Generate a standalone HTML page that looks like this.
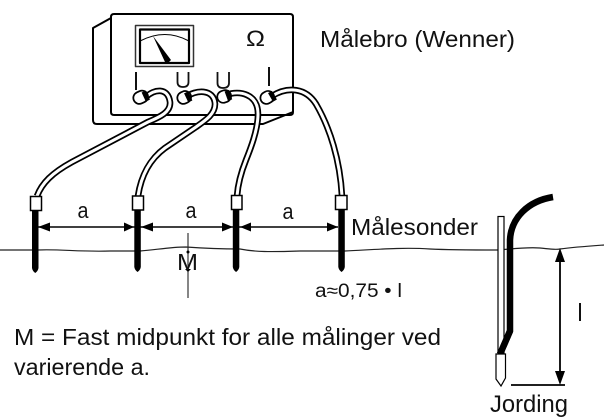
<!DOCTYPE html>
<html>
<head>
<meta charset="utf-8">
<style>
html,body{margin:0;padding:0;background:#fff;width:604px;height:420px;overflow:hidden}
svg{display:block}
text{font-family:"Liberation Sans",sans-serif;fill:#111}
</style>
</head>
<body>
<svg width="604" height="420" viewBox="0 0 604 420" xmlns="http://www.w3.org/2000/svg">
<g fill="none" stroke="#000" stroke-linejoin="round">
  <path d="M111 18 L93 28 V120 Q93 124 97 124 H263 L293 112" stroke-width="2"/>
  <path d="M114 14 H290 Q293 14 293 17 V112 Q293 115 290 115 H114 Q111 115 111 112 V17 Q111 14 114 14Z" stroke-width="2"/>
  <rect x="135.500" y="25.500" width="58" height="41" stroke="#333" stroke-width="1.500"/>
  <rect x="140" y="29.500" width="49" height="33.500" stroke-width="2.200"/>
  <path d="M140 41 Q165 28 189 41" stroke-width="1"/>
</g>
<path d="M153 36 L171 60 L168 63 L165 62Z" fill="#000"/>

<!-- cables -->
<g fill="none" stroke-linecap="butt">
  <g stroke="#000" stroke-width="6.500">
    <path d="M146 97 C154 89 168 87 170 102 C171 112 160 117 148 122 L72 162 C52 173 42 183 37 196"/>
    <path d="M186 97 C195 90 214 88 215 104 C215 114 206 120 196 127 L165 148 C150 159 141 176 138 196"/>
    <path d="M226 95 C240 90 258 94 258 114 C258 130 250 150 246 160 C242 170 238 183 237 196"/>
    <path d="M272 96 C288 86 306 88 316 104 C330 128 340 160 342 196"/>
  </g>
  <g stroke="#fff" stroke-width="3">
    <path d="M146 97 C154 89 168 87 170 102 C171 112 160 117 148 122 L72 162 C52 173 42 183 37 196"/>
    <path d="M186 97 C195 90 214 88 215 104 C215 114 206 120 196 127 L165 148 C150 159 141 176 138 196"/>
    <path d="M226 95 C240 90 258 94 258 114 C258 130 250 150 246 160 C242 170 238 183 237 196"/>
    <path d="M272 96 C288 86 306 88 316 104 C330 128 340 160 342 196"/>
  </g>
</g>
<!-- plugs -->
<g fill="#fff" stroke="#000" stroke-width="1.700">
  <rect x="133" y="91.500" width="15" height="12" rx="6" transform="rotate(-25 140 97)"/>
  <rect x="177" y="91.500" width="14" height="12" rx="6" transform="rotate(-25 184 97)"/>
  <rect x="217" y="90.500" width="14" height="12" rx="6" transform="rotate(-20 224 96)"/>
  <rect x="260" y="91.500" width="14" height="12" rx="6" transform="rotate(-30 267 97)"/>
</g>
<g fill="#000">
  <rect x="143.500" y="91" width="4.500" height="10" transform="rotate(-25 146 96)"/>
  <rect x="186" y="92" width="4.500" height="10" transform="rotate(-25 188 97)"/>
  <rect x="226" y="90.500" width="4.500" height="10" transform="rotate(-20 228 95)"/>
  <rect x="270" y="91.500" width="4.500" height="10" transform="rotate(-30 272 96)"/>
</g>

<!-- labels in box -->
<rect x="135" y="72" width="2" height="18" fill="#111"/>
<path d="M177.500 72 V82 Q177.500 87 183 87 Q188.500 87 188.500 82 V72" fill="none" stroke="#111" stroke-width="1.800"/>
<path d="M217.500 72 V83 Q217.500 88 223 88 Q229 88 229 83 V72" fill="none" stroke="#111" stroke-width="1.800"/>
<rect x="268" y="67" width="2" height="19" fill="#111"/>
<text x="246" y="46" font-size="22" textLength="19" lengthAdjust="spacingAndGlyphs">Ω</text>

<!-- ground -->
<path d="M0 250 H38 C60 249 80 252 110 251 H140 C155 250 170 247 186 247 C200 248 225 249 240 249 C255 252 270 252 300 251 H345 C370 250 400 247 430 249 C450 250 470 250 498 250 C512 249 525 247 540 248 C550 249 555 250 560 249 C575 247 590 246 604 245" fill="none" stroke="#222" stroke-width="1.200"/>

<!-- probes -->
<g fill="#000">
  <path d="M32 210 H38.500 V268 Q38 271 35.250 273 Q32.500 271 32 268Z"/>
  <path d="M134.300 210 H140.800 V267 Q140.300 270 137.550 272 Q134.800 270 134.300 267Z"/>
  <path d="M232.800 210 H239.300 V267 Q238.800 270 236.050 272 Q233.300 270 232.800 267Z"/>
  <path d="M338.300 210 H344.800 V267 Q344.300 270 341.550 272 Q338.800 270 338.300 267Z"/>
</g>
<g fill="#fff" stroke="#000" stroke-width="1.500">
  <rect x="30.500" y="196.500" width="11" height="14"/>
  <rect x="132.500" y="196" width="11" height="14"/>
  <rect x="231.500" y="195.500" width="10.500" height="14"/>
  <rect x="335.500" y="195.500" width="11.500" height="14"/>
</g>

<!-- dimension -->
<path d="M38 227 H338" stroke="#000" stroke-width="1.500"/>
<g fill="#000">
  <path d="M38 227 L50 222.500 V231.500Z"/>
  <path d="M134 227 L124 222.500 V231.500Z"/>
  <path d="M141 227 L153 222.500 V231.500Z"/>
  <path d="M233 227 L222 222.500 V231.500Z"/>
  <path d="M240 227 L251 222.500 V231.500Z"/>
  <path d="M338 227 L327 222.500 V231.500Z"/>
</g>
<text x="77.500" y="218" font-size="22" textLength="11" lengthAdjust="spacingAndGlyphs">a</text>
<text x="185.500" y="218" font-size="22" textLength="11" lengthAdjust="spacingAndGlyphs">a</text>
<text x="282.500" y="219" font-size="22" textLength="11" lengthAdjust="spacingAndGlyphs">a</text>

<!-- M -->
<path d="M188 233 V298" stroke="#222" stroke-width="1.100"/>
<circle cx="188" cy="252" r="1.500" fill="#000"/>
<path d="M185 269 L188 272 L191 269Z" fill="#000"/>
<text x="177" y="270" font-size="23" textLength="21" lengthAdjust="spacingAndGlyphs">M</text>

<!-- text -->
<text x="320" y="47" font-size="23" textLength="195" lengthAdjust="spacingAndGlyphs">Målebro (Wenner)</text>
<text x="351" y="235" font-size="23" textLength="127" lengthAdjust="spacingAndGlyphs">Målesonder</text>
<text x="315" y="297" font-size="19" textLength="87" lengthAdjust="spacingAndGlyphs">a≈0,75 • l</text>
<text x="14" y="345" font-size="23.500" textLength="427" lengthAdjust="spacingAndGlyphs">M = Fast midpunkt for alle målinger ved</text>
<text x="14" y="375" font-size="23.500" textLength="136" lengthAdjust="spacingAndGlyphs">varierende a.</text>
<text x="490" y="412" font-size="24" textLength="78" lengthAdjust="spacingAndGlyphs">Jording</text>
<rect x="579" y="303" width="2" height="18" fill="#111"/>

<!-- earth rod -->
<path d="M553 197 C528 201 511 218 510 240 V331 L500 354" fill="none" stroke="#000" stroke-width="6.500"/>
<rect x="498" y="216.500" width="6" height="137" fill="#fff" stroke="#000" stroke-width="1.200"/>
<path d="M500 354 L510 331" stroke="#000" stroke-width="6.500"/>
<path d="M496 354 H505.500 V378 L501 386 L496 379Z" fill="#fff" stroke="#000" stroke-width="1.200"/>
<path d="M511 385 H565" stroke="#000" stroke-width="1.800"/>
<path d="M560 254 V380" stroke="#000" stroke-width="1.800"/>
<path d="M560 248 L565 262 H555Z M560 385 L565 371 H555Z" fill="#000"/>
</svg>
</body>
</html>
